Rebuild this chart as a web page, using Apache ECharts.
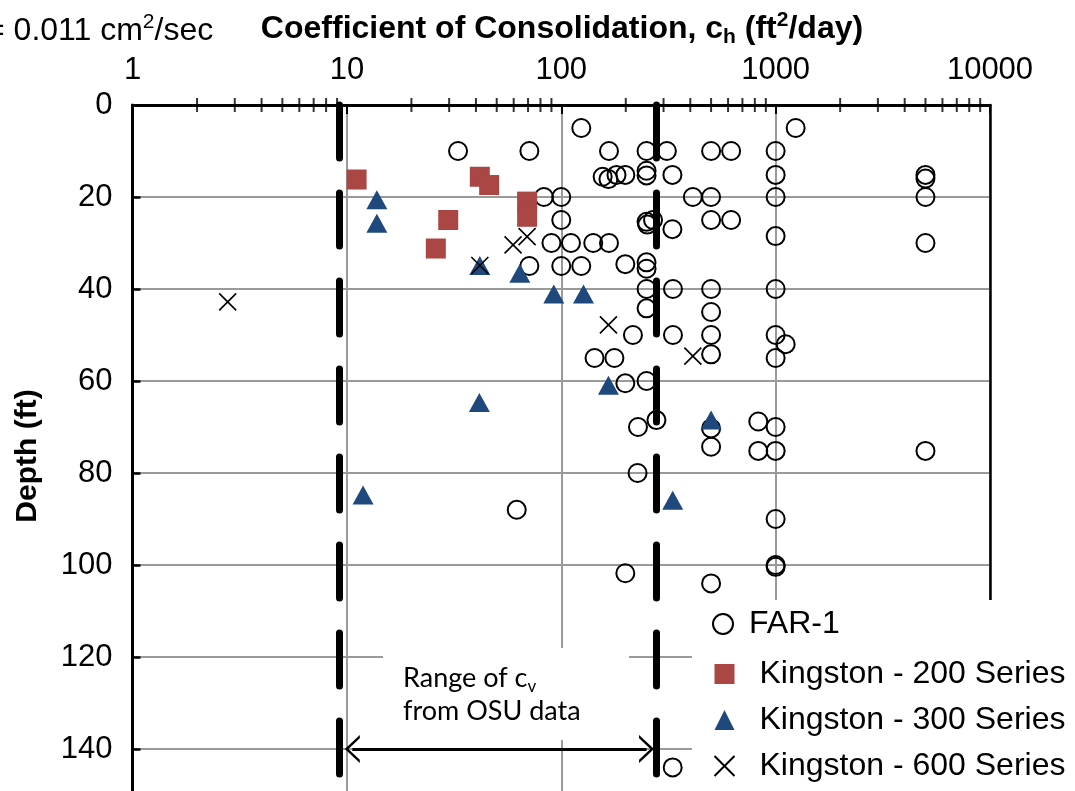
<!DOCTYPE html>
<html><head><meta charset="utf-8">
<script src="https://cdn.jsdelivr.net/npm/echarts@6/dist/echarts.min.js"></script>
<style>html,body{margin:0;padding:0;background:#fff}#c{width:1075px;height:791px}</style>
</head><body><div id="c"></div>
<script>
// ---- data (c_h in ft2/day, depth in ft) ----
const far1 = [
  [124,5],[1240,5],
  [33,10],[71,10],[167,10],[250,10],[311,10],[500,10],[620,10],[1000,10],
  [156,15.6],[166,16.1],[181,15.2],[199,15.2],[250,14.3],[250,15.3],[330,15.2],[1000,15.2],[5000,15.2],[5000,16],
  [83,20],[100,20],[411,20],[500,20],[1000,20],[5000,20],
  [100,25],[250,25.4],[252,26],[268,25],[500,25],[620,25],[330,27],[1000,28.5],[5000,30],
  [90,30],[111,30],[141,30],[167,30],
  [71,35],[100,35],[124,35],[199,34.6],[250,34.2],[250,35.6],
  [250,40],[332,40],[500,40],[1000,40],
  [250,44.2],[500,45],
  [216,50],[332,50],[500,50],[1000,50],[1114,52],
  [143,55],[177,55],[500,54.2],[1000,55],
  [199,60.5],[250,60],
  [278,68.5],[228,70],[830,68.8],[1000,70],[500,70.3],
  [500,74.3],[830,75.2],[1000,75.2],[5000,75.2],
  [227,80],[62,88],[1000,90],[1000,100],[1000,100.4],[199,101.8],[500,104],[331,144]
];
const kingston200 = [[11.1,16.2],[41.7,15.6],[46.1,17.4],[29.7,25],[26,31.2],[69.3,21],[69.3,24.3]];
const kingston300 = [[13.8,20.6],[13.8,25.7],[41.7,34.9],[64.1,36.6],[92.3,41.1],[127,41.1],[166,60.9],[41.5,64.7],[500,68.5],[331,85.9],[11.9,84.8]];
const kingston600 = [[2.78,42.8],[41.7,34.9],[59.6,30.4],[69.3,28.6],[166,47.8],[411,54.6]];
const seriesNames = ['FAR-1','Kingston - 200 Series','Kingston - 300 Series','Kingston - 600 Series'];
const xTickLabels = [1,10,100,1000,10000];
const yTickStep = 20;
const rangeLines = [9.2, 278];      // OSU c_v range bounds (ft2/day)
const arrowSpan = [10.6, 250];      // double arrow extent
const arrowDepth = 140;
const minorMult = [2,3,4,5,6,7,8,9];
const minorDecades = [1,10,100,1000];
const minorTicks = [];
minorDecades.forEach(d => minorMult.forEach(m => minorTicks.push([m*d, 0])));

const FONT = 'Liberation Sans, Arial, sans-serif';
const chart = echarts.init(document.getElementById('c'), null, {renderer:'canvas'});
const xPath = 'path://M0,0L10,10M10,0L0,10';
const chevron = 'path://M0,10L5,0L10,10L8.8,10L5,2.4L1.2,10Z';

chart.setOption({
  animation: false,
  backgroundColor: '#fff',
  grid: {left: 132.5, top: 105, width: 857.5, height: 690, outerBoundsMode: 'none', containLabel: false},
  xAxis: [{
    type: 'log', logBase: 10, min: 1, max: 10000, position: 'top',
    axisLine: {show: true, lineStyle: {color: '#000', width: 3}},
    axisTick: {show: true, inside: true, length: 9, lineStyle: {color: '#000', width: 2}},
    axisLabel: {fontSize: 31, color: '#000', fontFamily: FONT, margin: 19,
      formatter: v => String(Math.round(v))},
    splitLine: {show: true, lineStyle: {color: '#9a9a9a', width: 2}},
    minorTick: {show: false}, minorSplitLine: {show: false}
  }],
  yAxis: [{
    type: 'value', inverse: true, min: 0, max: 150, interval: yTickStep,
    axisLine: {show: true, lineStyle: {color: '#000', width: 3}},
    axisTick: {show: true, inside: true, length: 8, lineStyle: {color: '#000', width: 2.5}},
    axisLabel: {fontSize: 31, color: '#000', fontFamily: FONT, margin: 20, showMaxLabel: false},
    splitLine: {show: true, lineStyle: {color: '#9a9a9a', width: 2}}
  }, {
    type: 'value', inverse: true, min: 0, max: 150, position: 'right',
    axisLine: {show: true, lineStyle: {color: '#000', width: 2.5}},
    axisTick: {show: false}, axisLabel: {show: false}, splitLine: {show: false}
  }],
  legend: [{
    data: [seriesNames[0]], orient: 'vertical', left: 712, top: 608, padding: 0,
    itemWidth: 20, itemHeight: 20, itemGap: 14, z: 10,
    textStyle: {fontSize: 32, color: '#000', fontFamily: FONT, lineHeight: 32, padding: [0,0,0,11]}
  }, {
    data: seriesNames.slice(1), orient: 'vertical', left: 712, top: 658, padding: 0,
    itemWidth: 20, itemHeight: 20, itemGap: 14, z: 10,
    textStyle: {fontSize: 32, color: '#000', fontFamily: FONT, lineHeight: 32, padding: [0,0,0,20]}
  }],
  graphic: {elements: [
    {type: 'rect', left: 692, top: 600, z: 3, shape: {width: 383, height: 191}, style: {fill: '#fff'}},
    {type: 'rect', left: 383, top: 648, z: 3, shape: {width: 246, height: 92}, style: {fill: '#fff'}},
    {type: 'text', x: 403, y: 662, z: 3, style: {
      text: 'Range of c{sub|v}\nfrom OSU data', fill: '#000', fontSize: 27, fontFamily: 'Lato, Carlito, sans-serif',
      lineHeight: 33, align: 'left', verticalAlign: 'top',
      rich: {sub: {fontSize: 17, fontFamily: 'Lato, Carlito, sans-serif', verticalAlign: 'bottom', lineHeight: 17}}
    }},
    {type: 'text', x: 562, y: 29, z: 3, style: {
      text: 'Coefficient of Consolidation, c{sub|h} (ft{sup|2}/day)', fill: '#000', fontSize: 32,
      fontWeight: 'bold', fontFamily: FONT, align: 'center', verticalAlign: 'middle', lineHeight: 38,
      rich: {sub: {fontSize: 21, fontWeight: 'bold', fontFamily: FONT, verticalAlign: 'bottom', lineHeight: 21},
             sup: {fontSize: 21, fontWeight: 'bold', fontFamily: FONT, verticalAlign: 'top', lineHeight: 21}}
    }},
    {type: 'text', x: -14, y: 31, z: 3, style: {
      text: '= 0.011 cm{sup|2}/sec', fill: '#000', fontSize: 32, fontFamily: FONT,
      align: 'left', verticalAlign: 'middle', lineHeight: 38,
      rich: {sup: {fontSize: 21, fontFamily: FONT, verticalAlign: 'top', lineHeight: 21}}
    }},
    {type: 'text', x: 28, y: 456, rotation: Math.PI/2, z: 3, style: {
      text: 'Depth (ft)', fill: '#000', fontSize: 30, fontWeight: 'bold', fontFamily: FONT,
      align: 'center', verticalAlign: 'middle'
    }}
  ]},
  series: [
    {name: seriesNames[0], type: 'scatter', data: far1, symbol: 'circle', symbolSize: 18, z: 2,
      itemStyle: {color: 'rgba(255,255,255,0)', borderColor: '#000', borderWidth: 2, opacity: 1}},
    {name: seriesNames[1], type: 'scatter', data: kingston200, symbol: 'rect', symbolSize: 20, z: 2,
      itemStyle: {color: '#AA4643', opacity: 1}},
    {name: seriesNames[2], type: 'scatter', data: kingston300, symbol: 'triangle', symbolSize: [21, 19], z: 2,
      itemStyle: {color: '#1F497D', opacity: 1}},
    {name: seriesNames[3], type: 'scatter', data: kingston600, symbol: xPath, symbolSize: 17, z: 2,
      itemStyle: {color: 'none', borderColor: '#000', borderWidth: 1.6, opacity: 1}},
    {name: 'ticks', type: 'scatter', data: minorTicks, symbol: 'rect', symbolSize: [2, 14], clip: false,
      silent: true, z: 3, itemStyle: {color: '#000'}},
    {name: 'range', type: 'scatter', data: [], silent: true, z: 2,
      markLine: {
        silent: true, symbol: 'none', animation: false, label: {show: false},
        lineStyle: {color: '#000', width: 7, type: [53, 35], cap: 'round'},
        data: rangeLines.map(v => ({xAxis: v}))
      }},
    {name: 'arrow', type: 'scatter', data: [], silent: true, z: 2,
      markLine: {
        silent: true, animation: false, label: {show: false},
        symbol: [chevron, chevron], symbolSize: [28, 15],
        lineStyle: {color: '#000', width: 3, type: 'solid'},
        itemStyle: {color: '#000'},
        data: [[{coord: [arrowSpan[0], arrowDepth]}, {coord: [arrowSpan[1], arrowDepth]}]]
      }}
  ]
});
</script></body></html>
